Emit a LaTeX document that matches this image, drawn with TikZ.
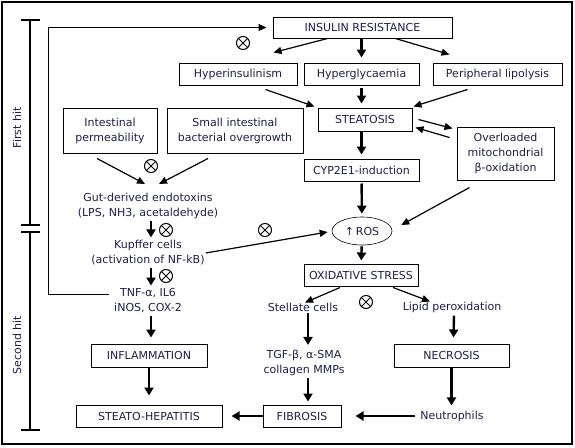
\documentclass[tikz,border=0pt]{standalone}
\usepackage{fontspec}
\setmainfont{DejaVu Sans}
\usetikzlibrary{
  calc, % For coordinate calculations
  shapes.geometric, % For the ROS ellipse
  arrows.meta % For arrow tips
}
\definecolor{schrift}{RGB}{30,30,75}

\begin{document}
\begin{tikzpicture}[
      x=1pt, y=-1pt, % Pixel-Koordinaten, y nach unten
      font=\fontsize{11}{15}\selectfont,
      kasten/.style={draw, line width=1pt, text=schrift, inner sep=1pt, align=center}, % Style for boxes
      frei/.style={text=schrift, inner sep=1pt, align=center}, % Style for plain text
      pfeil/.style={line width=2.4pt, -{Triangle[length=8pt, width=9pt]}}, % vertical arrows
      spfeil/.style={line width=1.2pt, -{Triangle[length=8pt, width=7pt]}}, % slanted arrows
      hemm/.style={circle, draw, line width=1pt, minimum size=13pt, inner sep=0pt,
        path picture={\draw[line width=1pt]
          (path picture bounding box.north west) -- (path picture bounding box.south east)
          (path picture bounding box.south west) -- (path picture bounding box.north east);}},
      klammer/.style={line width=2pt}, % Style for the hit brackets
    ]
    \useasboundingbox (0,0) rectangle (575,447);

    % Rahmen
    \draw[line width=1.2pt] (2,2) rectangle (572,444);

    % Erster Treffer
    \node[kasten, minimum width=179, minimum height=21] (ir) at (362.5,27.5) {INSULIN RESISTANCE};
    \node[kasten, minimum width=118, minimum height=22] (hi) at (238,74) {Hyperinsulinism};
    \node[kasten, minimum width=115, minimum height=22] (hg) at (361.5,74) {Hyperglycaemia};
    \node[kasten, minimum width=129, minimum height=22] (pl) at (497.5,74) {Peripheral lipolysis};
    \node[kasten, minimum width=94, minimum height=23] (st) at (365,119.5) {STEATOSIS};
    \node[kasten, minimum width=97, minimum height=53] (ov) at (505.5,153.5) {Overloaded\\mitochondrial\\β-oxidation};
    \node[kasten, minimum width=115, minimum height=22] (cyp) at (361.5,170) {CYP2E1-induction};
    \node[kasten, ellipse, line width=0.6pt, minimum width=60, minimum height=28] (ros) at (362,231) {↑\,ROS};
    \node[kasten, minimum width=94, minimum height=45] (ip) at (110,130.5) {Intestinal\\permeability};
    \node[kasten, minimum width=136, minimum height=45] (sibo) at (235,130.5) {Small intestinal\\bacterial overgrowth};
    \node[frei] (gut) at (148,206) {Gut-derived endotoxins\\(LPS, NH3, acetaldehyde)};

    % Zweiter Treffer
    \node[frei] (kup) at (148,253) {Kupffer cells\\(activation of NF-kB)};
    \node[frei] (tnf) at (148,301) {TNF-α, IL6\\iNOS, COX-2};
    \node[kasten, minimum width=114, minimum height=22] (ox) at (361,275) {OXIDATIVE STRESS};
    \node[frei] (stel) at (303,307) {Stellate cells};
    \node[frei] (lip) at (452,307) {Lipid peroxidation};
    \node[frei] (tgf) at (304,363) {TGF-β, α-SMA\\collagen MMPs};
    \node[kasten, minimum width=116, minimum height=23] (infl) at (149,355.5) {INFLAMMATION};
    \node[kasten, minimum width=115, minimum height=23] (nec) at (451.5,355.5) {NECROSIS};
    \node[kasten, minimum width=146, minimum height=22] (sh) at (149,416) {STEATO-HEPATITIS};
    \node[kasten, minimum width=78, minimum height=22] (fib) at (302,416) {FIBROSIS};
    \node[frei] (neu) at (452,416) {Neutrophils};

    % Hemmzeichen
    \foreach \n/\p in {h1/{(243,43)}, h2/{(151,166)}, h3/{(166,230)}, h4/{(166,276)}, h5/{(265,230)}, h6/{(366,302)}}
    \node[hemm] (\n) at \p {};

    % Pfeile oben
    \draw[spfeil] ($(ir.south)+(-35,0)$) -- ($(hi.north east)+(-24,-10)$);
    \draw[pfeil, shorten >=5pt] (ir.south -| hg.north) -- (hg.north);
    \draw[spfeil] ($(ir.south)+(33,0)$) -- ($(pl.north west)+(17,-8)$);
    \draw[spfeil] ($(hi.south east)+(-32,4)$) -- ($(st.north west)+(-3,-1)$);
    \draw[pfeil, shorten >=4pt, shorten <=2pt] (hg.south) -- (hg.south |- st.north);
    \draw[spfeil] ($(pl.south west)+(35,4)$) -- ($(st.north east)+(1,-1)$);
    \draw[spfeil] ($(st.east)+(6,0)$) -- ($(ov.north west)+(-4,2)$);
    \draw[spfeil] ($(ov.north west)+(-7,11)$) -- ($(st.south east)+(3,-4)$);
    \draw[pfeil, shorten >=4pt] (cyp.north |- st.south) -- (cyp.north);
    \draw[pfeil, shorten >=3pt, shorten <=2pt] (cyp) -- (ros);
    \draw[spfeil] ($(ov.south west)+(13,7)$) -- ($(ros.east)+(9,-6)$);

    % Darm-Achse
    \draw[spfeil] ($(ip.south)+(-13,5)$) -- ($(gut.north)+(-3,-8)$);
    \draw[spfeil] ($(sibo.south)+(-27,5)$) -- ($(gut.north)+(11,-8)$);
    \draw[pfeil] ($(gut.south)+(3,1)$) -- ($(kup.north)+(3,-2)$);
    \draw[pfeil] ($(kup.south)+(3,1)$) -- ($(tnf.north)+(3,-2)$);
    \draw[spfeil] (kup.east) -- ($(ros.west)+(-4,1)$);
    \draw[pfeil] ($(tnf.south)+(3,2)$) -- ($(infl.north)+(2,-6)$);
    \draw[pfeil, shorten >=9pt] (infl) -- (sh);

    % Rückkopplung
    \coordinate (rueck) at (48,27.5);
    \draw[spfeil, line width=1pt, shorten >=6pt] ($(tnf.west)+(-4,-7)$) -| (rueck) -- (ir.west);

    % Oxidativer Stress
    \draw[pfeil, shorten >=3pt, shorten <=1pt] (ros) -- (ox);
    \draw[spfeil] ($(ox.south)+(-21,1)$) -- ($(stel.north)+(2,1)$);
    \draw[spfeil] ($(ox.south)+(32,1)$) -- ($(lip.north)+(-22,1)$);
    \draw[pfeil] ($(stel.south)+(5,1)$) -- ($(tgf.north)+(4,-4)$);
    \draw[pfeil] ($(tgf.south)+(4,1)$) -- ($(fib.north)+(6,-3)$);
    \draw[pfeil] ($(lip.south)+(2,2)$) -- ($(nec.north)+(2,-6)$);
    \draw[pfeil, shorten >=4pt] (nec.south) -- (nec.south |- neu.north);
    \draw[pfeil, shorten >=14pt, shorten <=4pt] (neu.west) -- (fib.east);
    \draw[pfeil, shorten >=9pt] (fib) -- (sh);

    % Klammern
    \draw[klammer] (21,20) -- (40,20) (30,20) -- (30,225) (21,225) -- (40,225);
    \draw[klammer] (21,232) -- (40,232) (30,232) -- (30,430) (21,430) -- (40,430);
    \node[frei, rotate=90] (erst) at (17,128) {First hit};
    \node[frei, rotate=90] (zweit) at (17,345) {Second hit};
  \end{tikzpicture}
\end{document}
